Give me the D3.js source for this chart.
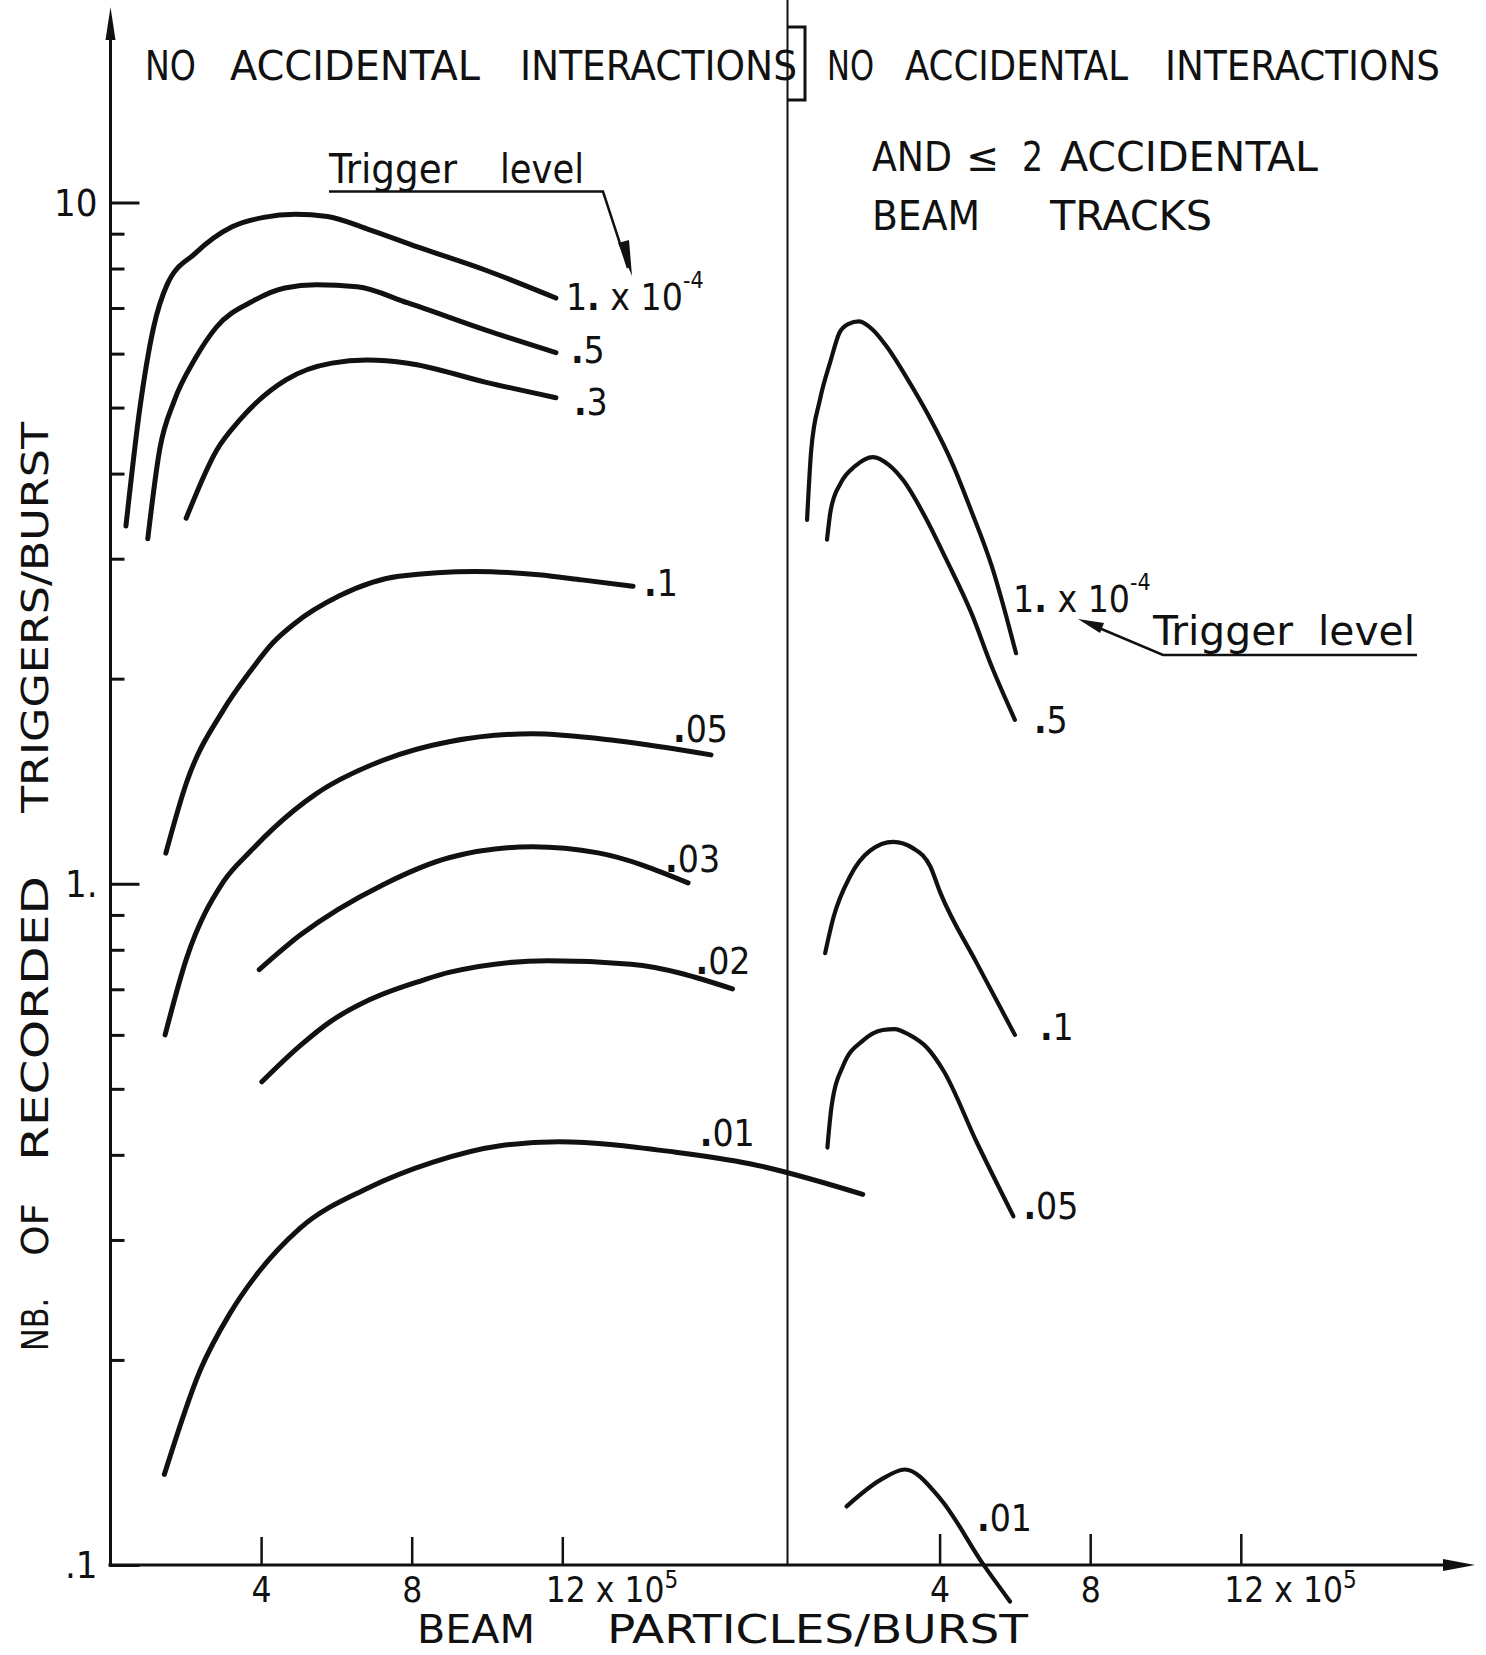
<!DOCTYPE html>
<html>
<head>
<meta charset="utf-8">
<script src="https://cdn.jsdelivr.net/npm/d3@7"></script>
<style>
    body { margin: 0; background: #fff; }
    svg { display: block; }
    text { font-family: 'DejaVu Sans Condensed', 'DejaVu Sans', sans-serif; fill: #111; }
</style>
</head>
<body>
<div id="chart"></div>
<script>

// ---- data (x in 10^5 beam particles/burst, y in triggers/burst) ----
var xTicks = [4, 8, 12];
var yMajor = [0.1, 1, 10];
var yMinor = [0.2, 0.3, 0.4, 0.5, 0.6, 0.7, 0.8, 0.9, 2, 3, 4, 5, 6, 7, 8, 9];
var yLabels = { 0.1: '.1', 1: '1.', 10: '10' };

// left panel: no accidental interactions
var left100 = [[0.41,3.35],[0.78,4.99],[1.14,6.54],[1.50,7.57],[2.25,8.42],[3.23,9.21],[4.07,9.51],[4.91,9.61],[5.76,9.54],[6.81,9.15],[8.17,8.60],[9.95,7.96],[11.83,7.24]];
var left050 = [[0.99,3.21],[1.31,4.35],[1.69,5.11],[2.25,5.90],[2.81,6.56],[3.79,7.17],[4.63,7.49],[5.47,7.57],[6.55,7.52],[7.90,7.12],[9.95,6.50],[11.83,6.02]];
var left030 = [[2.01,3.44],[2.82,4.33],[3.44,4.80],[4.66,5.49],[5.88,5.81],[6.81,5.87],[7.90,5.81],[9.95,5.45],[11.83,5.17]];
var left010 = [[1.47,1.109],[2.02,1.408],[3.00,1.800],[3.71,2.050],[4.32,2.260],[4.85,2.400],[6.08,2.646],[7.66,2.827],[9.69,2.874],[11.37,2.841],[12.52,2.793],[13.88,2.733]];
var left005 = [[1.45,0.600],[2.02,0.777],[3.00,1.007],[3.71,1.115],[4.32,1.205],[5.46,1.355],[7.24,1.518],[8.99,1.616],[11.19,1.660],[13.40,1.623],[15.95,1.546]];
var left003 = [[3.95,0.748],[5.03,0.840],[7.24,0.997],[8.99,1.092],[11.19,1.133],[12.95,1.110],[15.34,1.003]];
var left002 = [[4.02,0.512],[5.03,0.578],[5.83,0.627],[6.89,0.676],[8.27,0.721],[8.99,0.741],[11.63,0.771],[13.82,0.762],[16.52,0.701]];
var left001 = [[1.43,0.1358],[2.38,0.1930],[3.17,0.2339],[3.88,0.2668],[5.03,0.3121],[6.80,0.3568],[8.57,0.3904],[10.35,0.4126],[11.91,0.4182],[15.01,0.4036],[16.98,0.3882],[19.98,0.3500]];

// right panel: no accidental interactions and <= 2 accidental beam tracks
var right100 = [[0.48,3.42],[0.59,4.33],[0.82,5.13],[1.11,5.87],[1.34,6.44],[1.57,6.63],[1.86,6.69],[2.23,6.50],[2.60,6.14],[3.16,5.49],[3.72,4.85],[4.37,4.10],[4.83,3.54],[5.39,2.92],[5.77,2.47],[6.03,2.18]];
var right050 = [[1.01,3.20],[1.11,3.54],[1.38,3.88],[1.75,4.10],[2.23,4.23],[2.65,4.12],[3.05,3.90],[3.61,3.46],[4.18,2.99],[4.84,2.50],[5.39,2.08],[6.00,1.74]];
var right010 = [[0.96,0.791],[1.18,0.892],[1.62,1.025],[2.15,1.118],[2.77,1.152],[3.30,1.127],[3.75,1.061],[4.01,0.973],[4.99,0.764],[6.00,0.600]];
var right005 = [[1.02,0.410],[1.13,0.471],[1.44,0.541],[1.97,0.589],[2.49,0.610],[2.80,0.612],[3.20,0.600],[3.66,0.575],[4.10,0.532],[4.99,0.417],[5.96,0.325]];
var right001 = [[1.53,0.1219],[2.42,0.1332],[3.08,0.1381],[4.01,0.1253],[5.16,0.1002],[5.87,0.0884]];

// ---- layout ----
var width = 1486, height = 1655;
var axisX = 110.5, axisY = 1565, unit = 37.65, divider = 787.5;

var svg = d3.select('#chart').append('svg')
    .attr('width', width)
    .attr('height', height);

svg.append('rect').attr('width', width).attr('height', height).attr('fill', '#fff');

var y = d3.scaleLog().domain([0.1, 10]).range([axisY, 202.5]);
var xLeft = d3.scaleLinear().domain([0, 18]).range([axisX, axisX + 18 * unit]);
var xRight = d3.scaleLinear().domain([0, 18]).range([789, 789 + 18 * unit]);

var series = [
    { data: left100, x: xLeft, label: '1', tail: ' x 10', sup: '-4', dx: 10, dy: 12 },
    { data: left050, x: xLeft, label: '', tail: '5', dx: 15, dy: 10 },
    { data: left030, x: xLeft, label: '', tail: '3', dx: 18, dy: 17 },
    { data: left010, x: xLeft, label: '', tail: '1', dx: 11, dy: 10 },
    { data: left005, x: xLeft, label: '', tail: '05', dx: -38, dy: -13 },
    { data: left003, x: xLeft, label: '', tail: '03', dx: -23, dy: -11 },
    { data: left002, x: xLeft, label: '', tail: '02', dx: -37, dy: -15 },
    { data: left001, x: xLeft, label: '', tail: '01', dx: -163, dy: -48 },
    { data: right100, x: xRight, label: '1', tail: ' x 10', sup: '-4', dx: -3, dy: -41, w: 4.2 },
    { data: right050, x: xRight, label: '', tail: '5', dx: 19, dy: 13, w: 4.2 },
    { data: right010, x: xRight, label: '', tail: '1', dx: 25, dy: 5, w: 4.2 },
    { data: right005, x: xRight, label: '', tail: '05', dx: 10, dy: 3, w: 4.2 },
    { data: right001, x: xRight, label: '', tail: '01', dx: -33, dy: -70, w: 4.2 }
];

// words placed like the hand lettering: [text, x0, x1, baseline]
function addWord(g, t, x0, x1, base, size) {
    g.append('text')
        .attr('x', x0)
        .attr('y', base)
        .attr('font-size', size)
        .attr('textLength', x1 - x0)
        .attr('lengthAdjust', 'spacingAndGlyphs')
        .text(t);
}

// ---- axes ----
var axes = svg.append('g');

// y axis line with arrow
axes.append('line')
    .attr('x1', axisX).attr('x2', axisX)
    .attr('y1', axisY + 2).attr('y2', 30)
    .attr('stroke', '#111').attr('stroke-width', 3);
axes.append('path')
    .attr('d', 'M' + axisX + ',7 L' + (axisX - 5) + ',40 L' + (axisX + 5) + ',40 Z')
    .attr('fill', '#111');

// x axis line with arrow
axes.append('line')
    .attr('x1', axisX - 2).attr('x2', 1450)
    .attr('y1', axisY).attr('y2', axisY)
    .attr('stroke', '#111').attr('stroke-width', 3);
axes.append('path')
    .attr('d', 'M1475,' + axisY + ' L1443,' + (axisY - 6) + ' L1443,' + (axisY + 6) + ' Z')
    .attr('fill', '#111');

// y minor ticks
var yMinorAxis = d3.axisLeft(y).tickValues(yMinor).tickSize(-14).tickFormat('');
axes.append('g')
    .attr('transform', 'translate(' + axisX + ',0)')
    .call(yMinorAxis)
    .call(function(g) { g.select('.domain').remove(); })
    .selectAll('line').attr('stroke', '#111').attr('stroke-width', 3);

// y major ticks + labels
var yMajorAxis = d3.axisLeft(y).tickValues(yMajor).tickSize(-29).tickPadding(13)
    .tickFormat(function(d) { return yLabels[d]; });
var yg = axes.append('g')
    .attr('transform', 'translate(' + axisX + ',0)')
    .call(yMajorAxis)
    .call(function(g) { g.select('.domain').remove(); });
yg.selectAll('line').attr('stroke', '#111').attr('stroke-width', 3);
yg.selectAll('text')
    .attr('font-size', 38)
    .attr('font-family', "'DejaVu Sans Condensed','DejaVu Sans',sans-serif")
    .attr('fill', '#111')
    .attr('dy', '0.34em');

// x ticks on both panels
function xAxisPanel(scale, tickLen) {
    var ax = d3.axisBottom(scale).tickValues(xTicks).tickSize(-tickLen).tickPadding(12)
        .tickFormat(function(d) { return d; });
    var g = axes.append('g')
        .attr('transform', 'translate(0,' + axisY + ')')
        .call(ax)
        .call(function(g) { g.select('.domain').remove(); });
    g.selectAll('line').attr('stroke', '#111').attr('stroke-width', 2.5);
    g.selectAll('text')
        .attr('font-size', 35)
        .attr('font-family', "'DejaVu Sans Condensed','DejaVu Sans',sans-serif")
        .attr('fill', '#111');
    var big = g.selectAll('text').filter(function(d) { return d === 12; })
        .attr('text-anchor', 'start')
        .attr('x', -17)
        .text('12 x 10');
    big.append('tspan').attr('dy', -14).attr('font-size', 24).text('5');
}
xAxisPanel(xLeft, 28);
xAxisPanel(xRight, 31);

// divider between the two panels, with its bracket
axes.append('line')
    .attr('x1', divider).attr('x2', divider)
    .attr('y1', 0).attr('y2', axisY)
    .attr('stroke', '#111').attr('stroke-width', 2);
axes.append('path')
    .attr('d', 'M' + divider + ',27 H805 V100 H' + divider)
    .attr('fill', 'none').attr('stroke', '#111').attr('stroke-width', 3);

// ---- curves ----
var line = function(xs) {
    return d3.line()
        .x(function(d) { return xs(d[0]); })
        .y(function(d) { return y(d[1]); })
        .curve(d3.curveMonotoneX);
};

var curves = svg.append('g');
series.forEach(function(s) {
    curves.append('path')
        .datum(s.data)
        .attr('d', line(s.x))
        .attr('fill', 'none')
        .attr('stroke', '#111')
        .attr('stroke-width', s.w || 5)
        .attr('stroke-linecap', 'round')
        .attr('stroke-linejoin', 'round');

    var last = s.data[s.data.length - 1];
    var t = curves.append('text')
        .attr('x', s.x(last[0]) + s.dx)
        .attr('y', y(last[1]) + s.dy)
        .attr('font-size', 37);
    t.append('tspan').text(s.label);
    t.append('tspan').attr('font-weight', 'bold').text('.');
    t.append('tspan').text(s.tail);
    if (s.sup) {
        t.append('tspan').attr('dy', -22).attr('font-size', 23).text(s.sup);
    }
});

// ---- lettering ----
var words = svg.append('g');
[['NO', 145, 196], ['ACCIDENTAL', 230, 480], ['INTERACTIONS', 520, 797]]
    .forEach(function(w) { addWord(words, w[0], w[1], w[2], 80, 41); });
[['NO', 827, 874], ['ACCIDENTAL', 905, 1128], ['INTERACTIONS', 1165, 1440]]
    .forEach(function(w) { addWord(words, w[0], w[1], w[2], 80, 41); });
[['AND', 872, 952], ['\u2264', 966, 999], ['2', 1022, 1043], ['ACCIDENTAL', 1060, 1318]]
    .forEach(function(w) { addWord(words, w[0], w[1], w[2], 171, 40); });
[['BEAM', 872, 980], ['TRACKS', 1050, 1212]]
    .forEach(function(w) { addWord(words, w[0], w[1], w[2], 230, 40); });
[['BEAM', 417, 535], ['PARTICLES/BURST', 607, 1028]]
    .forEach(function(w) { addWord(words, w[0], w[1], w[2], 1643, 39); });

// trigger level annotations
[['Trigger', 329, 457], ['level', 500, 584]]
    .forEach(function(w) { addWord(words, w[0], w[1], w[2], 183, 40); });
[['Trigger', 1153, 1293], ['level', 1318, 1415]]
    .forEach(function(w) { addWord(words, w[0], w[1], w[2], 645, 40); });

words.append('path')
    .attr('d', 'M329,191.5 H603 L628,268')
    .attr('fill', 'none').attr('stroke', '#111').attr('stroke-width', 2.5);
words.append('path')
    .attr('d', 'M632,276 L618,243 L629,240 Z')
    .attr('fill', '#111');
words.append('path')
    .attr('d', 'M1417,655 H1163 L1092,625')
    .attr('fill', 'none').attr('stroke', '#111').attr('stroke-width', 2.5);
words.append('path')
    .attr('d', 'M1078,619 L1104,623 L1100,633 Z')
    .attr('fill', '#111');

// y axis title (rotated)
var yTitle = words.append('g').attr('transform', 'translate(48,0) rotate(-90)');
[['NB.', 1351, 1298], ['OF', 1256, 1203], ['RECORDED', 1161, 876], ['TRIGGERS/BURST', 813, 422]]
    .forEach(function(w) { addWord(yTitle, w[0], -w[1], -w[2], 0, 38); });

</script>
</body>
</html>
